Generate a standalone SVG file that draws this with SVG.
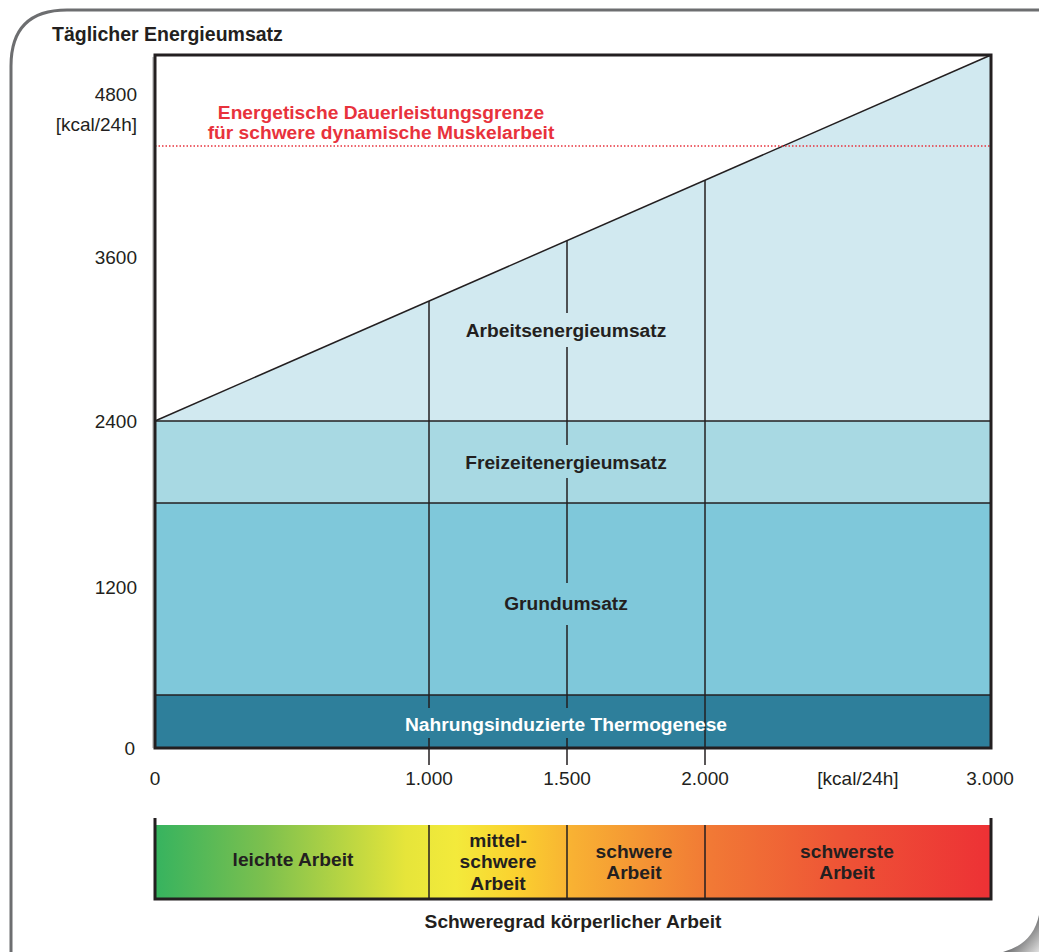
<svg xmlns="http://www.w3.org/2000/svg" width="1039" height="952" viewBox="0 0 1039 952">
<defs>
<linearGradient id="heat" x1="155" y1="0" x2="991" y2="0" gradientUnits="userSpaceOnUse">
<stop offset="0" stop-color="#36b35f"/>
<stop offset="0.13" stop-color="#7cc04e"/>
<stop offset="0.3" stop-color="#e6e53a"/>
<stop offset="0.36" stop-color="#f3ea3b"/>
<stop offset="0.43" stop-color="#fbd22f"/>
<stop offset="0.5" stop-color="#f8b133"/>
<stop offset="0.66" stop-color="#f17a35"/>
<stop offset="0.82" stop-color="#ee5436"/>
<stop offset="1" stop-color="#ed3135"/>
</linearGradient>
<linearGradient id="curl" x1="1020" y1="935" x2="1039" y2="952" gradientUnits="userSpaceOnUse">
<stop offset="0" stop-color="#6d6e70"/>
<stop offset="0.5" stop-color="#a8a8a8"/>
<stop offset="1" stop-color="#e0e0e0"/>
</linearGradient>
<style>
text{font-family:"Liberation Sans",Arial,sans-serif;fill:#231f20}
.b{font-weight:bold;font-size:19.2px}
.r{font-size:19px}
.c{text-anchor:middle}
.e{text-anchor:end}
.ln{stroke:#231f20;stroke-width:1.5;fill:none}
</style>
</defs>
<rect width="1039" height="952" fill="#ffffff"/>
<g id="frame">
<path d="M11,952 L11,66 Q11,10 67,10 L1039,10" fill="none" stroke="#6d6e70" stroke-width="3"/>
<path d="M1039,915 Q1033,944 1003,952 L1039,952 Z" fill="url(#curl)"/>
</g>
<g id="title"><text class="b" x="52" y="41" style="font-size:19.5px">Täglicher Energieumsatz</text></g>
<g id="bands">
<polygon id="arbeit" points="155,421 991,55 991,421" fill="#d1e9f0"/>
<rect id="freizeit" x="155" y="421" width="836" height="82" fill="#a8d9e3"/>
<rect id="grund" x="155" y="503" width="836" height="192" fill="#7fc8da"/>
<rect id="nahrung" x="155" y="695" width="836" height="53" fill="#2e7f9b"/>
</g>
<g id="connectors">
<line class="ln" x1="155" y1="421" x2="991" y2="55"/>
<line class="ln" x1="155" y1="421" x2="991" y2="421"/>
<line class="ln" x1="155" y1="503" x2="991" y2="503"/>
<line class="ln" x1="155" y1="695" x2="991" y2="695"/>
<path class="ln" d="M429,301 L429,708 M429,738 L429,765"/>
<path class="ln" d="M567,241 L567,313 M567,347 L567,445 M567,478 L567,583 M567,625 L567,708 M567,738 L567,765"/>
<path class="ln" d="M705,180 L705,765"/>
<line x1="155" y1="146" x2="991" y2="146" stroke="#e8323c" stroke-width="1.5" stroke-dasharray="1.5,2"/>
<line x1="153" y1="57" x2="153" y2="748" stroke="#d0d0d0" stroke-width="2"/>
<rect x="155" y="55" width="836" height="693" fill="none" stroke="#231f20" stroke-width="3"/>
</g>
<g id="band-labels">
<text class="b c" x="566" y="337">Arbeitsenergieumsatz</text>
<text class="b c" x="566" y="469">Freizeitenergieumsatz</text>
<text class="b c" x="566" y="610">Grundumsatz</text>
<text class="b c" x="566" y="731" style="fill:#ffffff">Nahrungsinduzierte Thermogenese</text>
</g>
<g id="limit-label">
<text class="b c" x="381" y="119" style="fill:#e8323c">Energetische Dauerleistungsgrenze</text>
<text class="b c" x="381" y="139" style="fill:#e8323c">für schwere dynamische Muskelarbeit</text>
</g>
<g id="y-axis">
<text class="r e" x="137" y="101">4800</text>
<text class="r e" x="137" y="131">[kcal/24h]</text>
<text class="r e" x="137" y="264">3600</text>
<text class="r e" x="137" y="428">2400</text>
<text class="r e" x="137" y="594">1200</text>
<text class="r e" x="135" y="755">0</text>
</g>
<g id="x-axis">
<text class="r c" x="155" y="785">0</text>
<text class="r c" x="429" y="785">1.000</text>
<text class="r c" x="567" y="785">1.500</text>
<text class="r c" x="705" y="785">2.000</text>
<text class="r c" x="858" y="785">[kcal/24h]</text>
<text class="r c" x="990" y="785">3.000</text>
</g>
<g id="severity-bar">
<rect x="155" y="825" width="836" height="74" fill="url(#heat)"/>
<path d="M155,818 L155,899 L991,899 L991,818" fill="none" stroke="#231f20" stroke-width="3"/>
<path class="ln" d="M429,825 L429,899 M567,825 L567,899 M705,825 L705,899"/>
</g>
<g id="severity-labels">
<text class="b c" x="293" y="866">leichte Arbeit</text>
<text class="b c" x="498" y="847">mittel-</text>
<text class="b c" x="498" y="868">schwere</text>
<text class="b c" x="498" y="890">Arbeit</text>
<text class="b c" x="634" y="858">schwere</text>
<text class="b c" x="634" y="879">Arbeit</text>
<text class="b c" x="847" y="858">schwerste</text>
<text class="b c" x="847" y="879">Arbeit</text>
<text class="b c" x="573" y="928">Schweregrad körperlicher Arbeit</text>
</g>
</svg>
